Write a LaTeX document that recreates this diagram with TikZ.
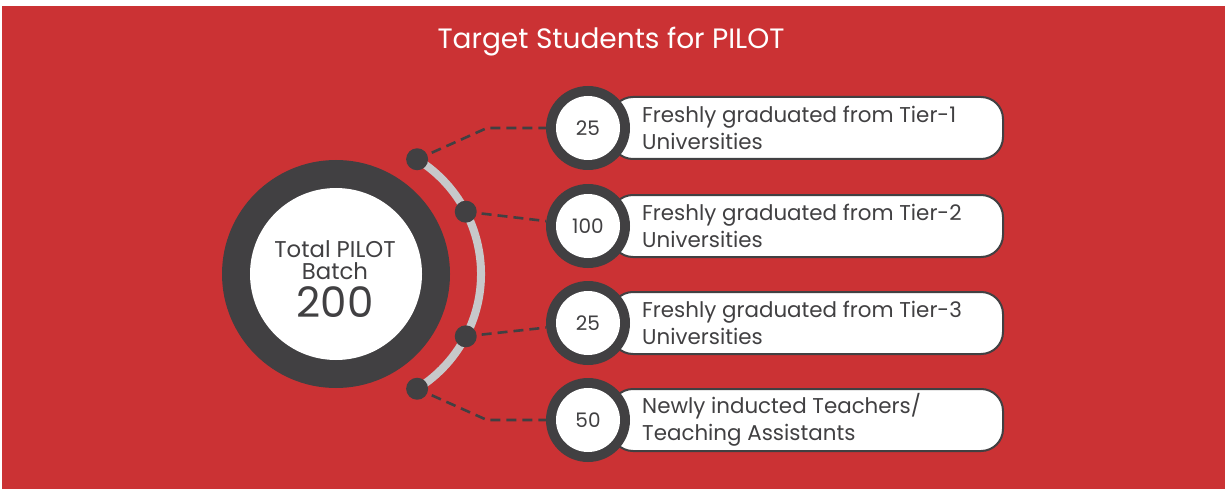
\documentclass[tikz,border=0pt]{standalone}
\usepackage{fontspec}
\setmainfont{Poppins}
\usetikzlibrary{calc}
\definecolor{bgred}{HTML}{CB3234}
\definecolor{darkg}{HTML}{414042}
\definecolor{arcgrey}{HTML}{C7C8CA}
\tikzset{
  dotnode/.style={circle, fill=darkg, minimum size=22pt, inner sep=0pt},
  connline/.style={draw=darkg, line width=2.6pt, dash pattern=on 10pt off 6pt},
  pillbox/.style={draw=darkg, line width=2pt, fill=white, rounded corners=22pt, minimum width=392pt, minimum height=62pt, anchor=west, inner sep=0pt},
  pilltext/.style={anchor=west, align=left, text=darkg, inner sep=0pt, font=\fontsize{21.4}{27}\selectfont},
  ringouter/.style={circle, fill=darkg, minimum size=84pt, inner sep=0pt},
  ringinner/.style={circle, fill=white, minimum size=64pt, inner sep=0pt, text=darkg, font=\fontsize{20}{24}\selectfont},
}
\begin{document}
\begin{tikzpicture}[x=1pt,y=-1pt]
\useasboundingbox (0,0) rectangle (1225,489);
\fill[bgred] (2,6) rectangle (1225,489);
\node[text=white, inner sep=0pt, font=\fontsize{28}{34}\selectfont] (title) at (611,42) {Target Students for PILOT};

% big circle
\node[circle, fill=darkg, minimum size=228pt, inner sep=0pt] (big) at (336,274) {};
\node[circle, fill=white, minimum size=172pt, inner sep=0pt] (bigin) at (336,274) {};
\node[anchor=base, text=darkg, inner sep=0pt, font=\fontsize{22.8}{27}\selectfont] (tl1) at (335,257) {Total PILOT};
\node[anchor=base, text=darkg, inner sep=0pt, font=\fontsize{22.8}{27}\selectfont] (tl2) at (335,279) {Batch};
\node[anchor=base, text=darkg, inner sep=0pt, font=\fontsize{42}{46}\selectfont] (tl3) at (335,317) {200};

% pills
\foreach \i/\y/\a/\b in {1/128/{Freshly graduated from Tier-1}/{Universities},
                         2/226/{Freshly graduated from Tier-2}/{Universities},
                         3/323/{Freshly graduated from Tier-3}/{Universities},
                         4/420/{Newly inducted Teachers/}/{Teaching Assistants}}{
  \node[pillbox] (p\i) at (610,\y) {};
  \node[pilltext] (t\i) at (642,\y) {\a\\\b};
}

% number rings
\node[ringouter] (c1) at (588,128) {};
\node[ringinner] (n1) at (588,128) {25};
\node[ringouter] (c2) at (588,226) {};
\node[ringinner] (n2) at (588,226) {100};
\node[ringouter] (c3) at (588,323) {};
\node[ringinner] (n3) at (588,323) {25};
\node[ringouter] (c4) at (588,420) {};
\node[ringinner] (n4) at (588,420) {50};

% arc, connectors and dots
\coordinate (ac) at (346,274);
\coordinate (dp1) at ($(ac)+(-58.2:135)$);
\coordinate (dp2) at ($(ac)+(-27.5:135)$);
\coordinate (dp3) at ($(ac)+(27.5:135)$);
\coordinate (dp4) at ($(ac)+(58.2:135)$);
\coordinate (k1) at (487,128);
\coordinate (k4) at (487,420);
\draw[arcgrey, line width=8pt] (dp1) arc[start angle=-58.2, end angle=58.2, radius=135];
\draw[connline] (dp1) -- (k1) -- (c1.west);
\draw[connline] (dp2) -- (c2);
\draw[connline] (dp3) -- (c3);
\draw[connline] (dp4) -- (k4) -- (c4.west);
\node[dotnode] (d1) at (dp1) {};
\node[dotnode] (d2) at (dp2) {};
\node[dotnode] (d3) at (dp3) {};
\node[dotnode] (d4) at (dp4) {};
\end{tikzpicture}
\end{document}
